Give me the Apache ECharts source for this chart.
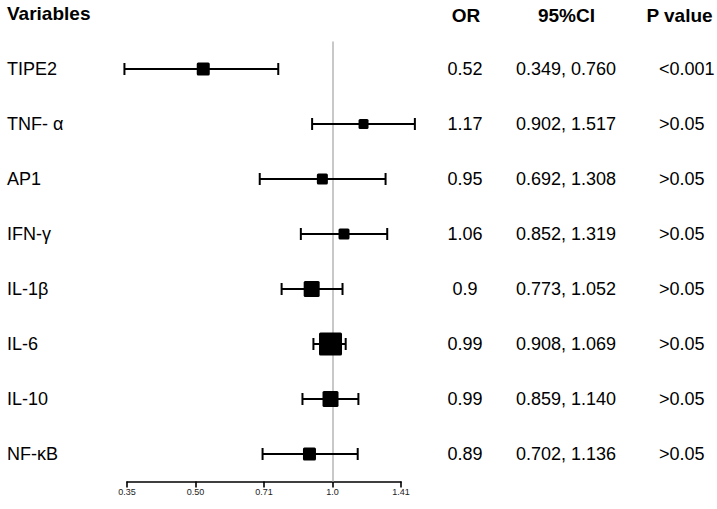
<!DOCTYPE html>
<html>
<head>
<meta charset="utf-8">
<script src="https://cdn.jsdelivr.net/npm/echarts@6/dist/echarts.min.js"></script>
<style>html,body{margin:0;padding:0;background:#fff;}#c{width:717px;height:509px;}</style>
</head>
<body>
<div id="c"></div>
<script>
const variables = ['TIPE2', 'TNF- α', 'AP1', 'IFN-γ', 'IL-1β', 'IL-6', 'IL-10', 'NF-κB'];
const orValues = [0.52, 1.17, 0.95, 1.06, 0.90, 0.99, 0.99, 0.89];
const ciLower = [0.349, 0.902, 0.692, 0.852, 0.773, 0.908, 0.859, 0.702];
const ciUpper = [0.760, 1.517, 1.308, 1.319, 1.052, 1.069, 1.140, 1.136];
const weights = [13, 10, 11, 11, 16, 23, 16, 13];
const orLabels = ['0.52', '1.17', '0.95', '1.06', '0.9', '0.99', '0.99', '0.89'];
const ciLabels = ['0.349, 0.760', '0.902, 1.517', '0.692, 1.308', '0.852, 1.319', '0.773, 1.052', '0.908, 1.069', '0.859, 1.140', '0.702, 1.136'];
const pLabels = ['<0.001', '>0.05', '>0.05', '>0.05', '>0.05', '>0.05', '>0.05', '>0.05'];
const tickLabels = ['0.35', '0.50', '0.71', '1.0', '1.41'];
const headers = ['Variables', 'OR', '95%CI', 'P value'];

const FONT = '"Liberation Sans", Arial, Helvetica, sans-serif';

const forestData = variables.map((v, i) => [i, orValues[i], ciLower[i], ciUpper[i], weights[i]]);
const textData = variables.map((v, i) => [i, 1]);

const chart = echarts.init(document.getElementById('c'), null, {renderer: 'svg'});

chart.setOption({
  animation: false,
  backgroundColor: '#ffffff',
  grid: {left: 127, right: 316, top: 41.5, bottom: 27.5, containLabel: false},
  xAxis: {
    type: 'log',
    logBase: 2,
    min: 0.35355339,
    max: 1.41421356,
    interval: 0.5,
    axisLine: {show: true, lineStyle: {color: '#000', width: 1.6}},
    axisTick: {show: true, length: 6, lineStyle: {color: '#000', width: 1.6}},
    axisLabel: {
      fontSize: 9, color: '#222', fontFamily: FONT, margin: 6,
      formatter: function (v) {
        const idx = Math.round(Math.log2(v) * 2) + 3;
        return tickLabels[idx] !== undefined ? tickLabels[idx] : '';
      }
    },
    splitLine: {show: false},
    minorTick: {show: false}
  },
  yAxis: {
    type: 'category',
    inverse: true,
    data: variables,
    axisLine: {show: false},
    axisTick: {show: false},
    splitLine: {show: false},
    axisLabel: {align: 'left', margin: 120, fontSize: 18, color: '#000', fontFamily: FONT}
  },
  graphic: [
    {type: 'text', left: 7, top: 4, style: {text: headers[0], font: 'bold 19px ' + FONT, fill: '#000'}},
    {type: 'text', x: 466, y: 15, style: {text: headers[1], font: 'bold 19px ' + FONT, fill: '#000', align: 'center', verticalAlign: 'middle'}},
    {type: 'text', x: 566.5, y: 15, style: {text: headers[2], font: 'bold 19px ' + FONT, fill: '#000', align: 'center', verticalAlign: 'middle'}},
    {type: 'text', x: 679.5, y: 15, style: {text: headers[3], font: 'bold 19px ' + FONT, fill: '#000', align: 'center', verticalAlign: 'middle'}}
  ],
  series: [
    {
      type: 'line',
      data: [],
      z: 1,
      silent: true,
      markLine: {
        silent: true,
        z: 1,
        symbol: 'none',
        label: {show: false},
        lineStyle: {color: '#c8c8c8', width: 2, type: 'solid'},
        data: [{xAxis: 1}]
      }
    },
    {
      type: 'custom',
      z: 3,
      clip: false,
      data: forestData,
      encode: {x: [1, 2, 3], y: 0},
      renderItem: function (params, api) {
        const cat = api.value(0);
        const pt = api.coord([api.value(1), cat]);
        const lo = api.coord([api.value(2), cat]);
        const hi = api.coord([api.value(3), cat]);
        const s = api.value(4);
        const cap = 6;
        const ls = {stroke: '#000', lineWidth: 2};
        return {
          type: 'group',
          children: [
            {type: 'line', shape: {x1: lo[0], y1: lo[1], x2: hi[0], y2: hi[1]}, style: ls},
            {type: 'line', shape: {x1: lo[0], y1: lo[1] - cap, x2: lo[0], y2: lo[1] + cap}, style: ls},
            {type: 'line', shape: {x1: hi[0], y1: hi[1] - cap, x2: hi[0], y2: hi[1] + cap}, style: ls},
            {type: 'rect', shape: {x: pt[0] - s / 2, y: pt[1] - s / 2, width: s, height: s, r: 1.5}, style: {fill: '#000'}}
          ]
        };
      }
    },
    {
      type: 'custom',
      z: 3,
      clip: false,
      data: textData,
      encode: {x: 1, y: 0},
      renderItem: function (params, api) {
        const i = api.value(0);
        const y = api.coord([1, i])[1];
        const base = {font: '18px ' + FONT, fill: '#000', verticalAlign: 'middle'};
        return {
          type: 'group',
          children: [
            {type: 'text', style: Object.assign({}, base, {x: 465, y: y, text: orLabels[i], align: 'center'})},
            {type: 'text', style: Object.assign({}, base, {x: 566, y: y, text: ciLabels[i], align: 'center'})},
            {type: 'text', style: Object.assign({}, base, {x: 659, y: y, text: pLabels[i], align: 'left'})}
          ]
        };
      }
    }
  ]
});
</script>
</body>
</html>
